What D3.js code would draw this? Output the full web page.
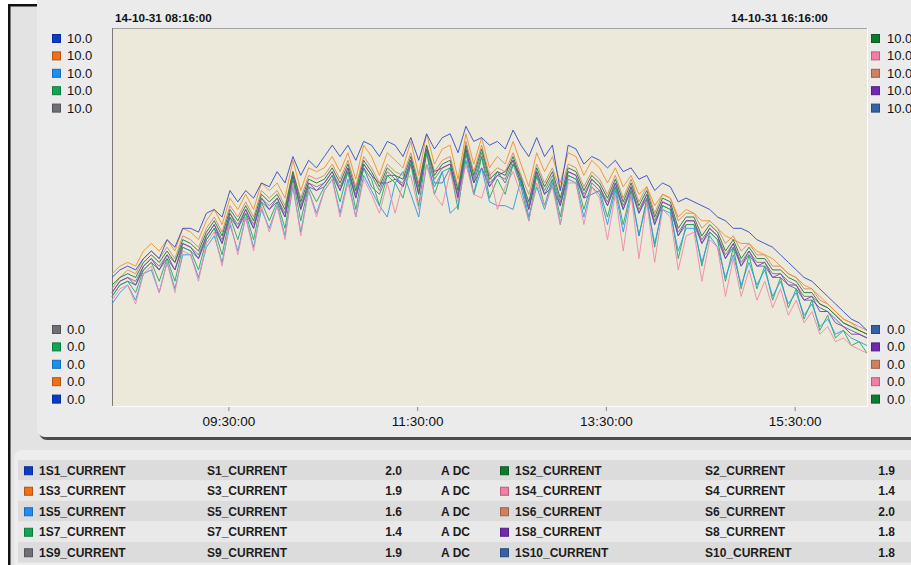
<!DOCTYPE html>
<html>
<head>
<meta charset="utf-8">
<script src="https://cdn.jsdelivr.net/npm/d3@7"></script>
<style>
  body { margin: 0; background: #fff; }
  svg { display: block; }
  text { font-family: "Liberation Sans", Arial, sans-serif; }
</style>
</head>
<body>
<svg id="chart" width="911" height="565"></svg>
<script>
// series names / units / colours
var names = ["1S1_CURRENT", "1S2_CURRENT", "1S3_CURRENT", "1S4_CURRENT", "1S5_CURRENT",
             "1S6_CURRENT", "1S7_CURRENT", "1S8_CURRENT", "1S9_CURRENT", "1S10_CURRENT"];
var shortNames = ["S1_CURRENT", "S2_CURRENT", "S3_CURRENT", "S4_CURRENT", "S5_CURRENT",
                  "S6_CURRENT", "S7_CURRENT", "S8_CURRENT", "S9_CURRENT", "S10_CURRENT"];
var lastValues = ["2.0", "1.9", "1.9", "1.4", "1.6", "2.0", "1.4", "1.8", "1.9", "1.8"];
var units = "ADC";
var colors = ["#0b3cc8", "#0e7a2e", "#f07018", "#f07ea6", "#1c8ff0",
              "#d0805e", "#13a553", "#7028b0", "#6f6f77", "#3562a2"];
var lineColors = ["#2f4cc4", "#1a7a36", "#f0902c", "#ee88a8", "#2a98ec",
                  "#d08a68", "#22a85e", "#7a3cb4", "#7a7a80", "#4a70a8"];

// time axis
var startTime = new Date(2014, 9, 31, 8, 16, 0);
var endTime = new Date(2014, 9, 31, 16, 16, 0);
var stepMinutes = 5;
var tickTimes = [new Date(2014, 9, 31, 9, 30), new Date(2014, 9, 31, 11, 30),
                 new Date(2014, 9, 31, 13, 30), new Date(2014, 9, 31, 15, 30)];
var yMin = 0, yMax = 10;

// sampled values, one every 5 minutes
var s1 = [3.4,3.6,3.7,3.6,3.9,4.1,3.9,4.4,4.2,4.7, 4.7,4.6,5.1,5.2,5.0,5.7,5.4,5.7,5.5,5.9,
          5.8,6.2,5.9,6.6,6.1,6.5,6.3,6.6,6.9,6.6, 6.9,6.5,7.0,6.9,6.6,7.0,6.9,6.6,7.1,6.5,
          7.2,6.8,7.1,7.2,6.7,7.4,7.0,7.1,6.9,7.0, 6.8,7.3,6.9,6.6,7.1,6.6,6.9,5.7,6.9,6.8,
          6.4,6.6,6.5,6.3,6.5,6.2,6.3,6.0,6.1,5.7, 5.9,5.8,5.4,5.5,5.4,5.3,5.2,5.0,4.9,4.7,
          4.7,4.6,4.4,4.3,4.2,4.0,3.8,3.6,3.4,3.3, 3.1,2.9,2.7,2.5,2.3,2.2,2.0];
var s2 = [3.2,3.4,3.5,3.4,3.8,4.0,3.8,4.1,3.8,4.4, 4.3,4.1,4.6,4.9,4.5,5.2,4.9,5.3,4.9,5.6,
          5.4,5.6,5.2,6.2,5.4,6.0,5.9,6.0,6.3,5.9, 6.4,5.7,6.5,6.2,5.8,6.3,6.1,6.0,6.6,5.8,
          6.9,6.1,6.4,6.5,5.7,6.9,6.1,6.8,6.0,6.2, 6.1,6.6,6.0,5.4,6.3,5.8,6.2,5.5,6.3,6.2,
          5.7,6.1,5.9,5.5,6.0,5.4,5.9,5.3,5.7,5.0, 5.5,5.4,4.7,5.0,5.0,4.5,4.8,4.6,4.1,4.4,
          3.9,4.2,3.9,3.9,3.6,3.6,3.4,3.3,3.0,3.0, 2.7,2.6,2.4,2.2,2.1,2.0,1.9];
var s3 = [3.5,3.7,3.8,3.7,4.1,4.3,4.1,4.4,4.1,4.7, 4.6,4.4,4.9,5.2,4.8,5.5,5.2,5.6,5.2,5.9,
          5.7,5.9,5.5,6.5,5.7,6.3,6.2,6.3,6.6,6.2, 6.7,6.0,6.9,6.6,6.1,6.7,6.5,6.3,7.0,6.1,
          7.2,6.4,6.8,6.9,6.0,7.2,6.4,7.1,6.3,6.6, 6.4,7.0,6.4,5.8,6.7,6.2,6.6,5.9,6.7,6.6,
          6.1,6.5,6.3,5.9,6.3,5.8,6.1,5.6,5.8,5.3, 5.6,5.5,5.0,5.2,5.1,4.9,4.9,4.7,4.5,4.4,
          4.3,4.3,4.1,4.0,3.9,3.7,3.5,3.4,3.2,3.1, 2.9,2.7,2.5,2.3,2.2,2.0,1.9];
var s4 = [2.8,3.1,3.2,2.7,3.5,3.7,3.0,3.8,3.0,4.1, 4.0,3.3,4.3,4.6,3.7,4.9,4.0,5.0,4.1,5.3,
          4.6,5.3,4.4,5.9,4.5,5.7,5.0,5.7,6.0,5.0, 5.9,5.0,6.0,5.6,5.1,5.9,5.1,5.9,6.1,5.2,
          6.4,5.6,5.3,6.2,5.4,6.4,5.6,5.5,6.2,5.2, 5.8,6.2,5.6,4.9,5.9,5.3,5.8,4.8,5.9,5.9,
          4.8,5.8,5.5,4.4,5.6,4.1,5.6,3.9,5.4,3.8, 5.2,5.0,3.6,4.5,4.6,3.3,4.4,4.2,2.9,3.9,
          2.9,3.6,2.8,3.3,2.6,3.1,2.4,2.8,2.2,2.5, 1.9,2.1,1.7,1.8,1.6,1.5,1.4];
var s5 = [2.7,3.0,3.2,2.8,3.5,3.6,3.0,3.8,3.1,4.0, 4.0,3.4,4.2,4.5,3.8,4.8,4.1,5.0,4.2,5.2,
          4.7,5.3,4.5,5.8,4.6,5.7,5.1,5.7,6.0,5.1, 6.0,5.0,6.1,5.7,5.3,5.0,5.9,6.2,5.6,5.0,
          6.4,5.8,6.2,5.1,5.3,6.5,5.6,6.3,5.4,5.3, 5.3,5.2,6.0,5.0,5.8,5.2,5.9,4.8,6.0,5.9,
          5.0,5.8,5.6,4.8,5.7,4.6,5.6,4.5,5.4,4.3, 5.2,5.1,4.1,4.7,4.7,3.8,4.5,4.2,3.4,4.0,
          3.2,3.8,3.2,3.6,2.9,3.3,2.7,3.0,2.4,2.7, 2.1,2.3,1.9,2.0,1.8,1.7,1.6];
var s6 = [3.1,3.4,3.6,3.5,3.9,4.1,3.9,4.2,3.9,4.5, 4.4,4.2,4.7,5.0,4.6,5.3,5.0,5.4,5.0,5.7,
          5.5,5.7,5.3,6.2,5.5,6.1,6.0,6.1,6.4,6.0, 6.5,5.8,6.6,6.3,5.9,6.4,6.2,6.1,6.7,5.9,
          6.9,6.2,6.5,6.6,5.8,7.0,6.2,6.9,6.1,6.3, 6.2,6.7,6.1,5.6,6.4,5.9,6.3,5.7,6.4,6.3,
          5.8,6.2,6.0,5.6,6.1,5.5,6.0,5.4,5.8,5.1, 5.6,5.5,4.9,5.1,5.1,4.7,4.9,4.7,4.3,4.5,
          4.1,4.3,4.0,4.0,3.7,3.7,3.5,3.4,3.1,3.1, 2.8,2.7,2.5,2.3,2.2,2.1,2.0];
var s7 = [2.9,3.2,3.3,3.0,3.6,3.8,3.3,3.9,3.3,4.2, 4.1,3.6,4.4,4.7,4.0,5.0,4.4,5.1,4.4,5.4,
          4.9,5.4,4.7,6.0,4.9,5.8,5.4,5.8,6.1,5.4, 6.2,5.2,6.3,6.0,5.3,6.1,5.9,5.5,6.4,5.3,
          6.7,5.6,6.2,6.3,5.2,6.7,5.6,6.6,5.5,6.0, 5.6,6.4,5.8,4.9,6.1,5.3,6.0,5.0,6.1,6.0,
          5.2,5.9,5.7,5.0,5.8,4.8,5.7,4.5,5.5,4.2, 5.3,5.2,3.9,4.8,4.8,3.7,4.6,4.4,3.3,4.2,
          3.1,4.0,3.1,3.7,2.8,3.4,2.6,3.1,2.3,2.8, 2.0,2.4,1.8,2.0,1.6,1.7,1.4];
var s8 = [3.0,3.3,3.4,3.2,3.7,3.9,3.6,4.0,3.6,4.3, 4.2,3.9,4.5,4.8,4.3,5.1,4.7,5.2,4.7,5.5,
          5.2,5.5,5.0,6.1,5.2,5.9,5.7,5.9,6.2,5.7, 6.3,5.5,6.4,6.1,5.9,5.9,6.0,5.8,6.5,5.6,
          6.8,6.2,6.3,6.4,5.5,6.8,5.9,6.3,5.8,6.1, 6.2,6.5,5.9,5.2,6.2,5.6,5.8,5.3,6.2,6.1,
          5.5,6.0,5.8,5.3,5.9,5.2,5.8,5.1,5.6,4.8, 5.4,5.3,4.5,4.9,4.9,4.3,4.7,4.5,3.9,4.3,
          3.7,4.1,3.7,3.8,3.4,3.5,3.2,3.2,2.8,2.9, 2.5,2.5,2.2,2.1,1.9,1.9,1.8];
var s9 = [3.0,3.3,3.4,3.3,3.7,3.9,3.7,4.0,3.8,4.3, 4.2,4.0,4.5,4.8,4.4,5.1,4.8,5.2,4.8,5.5,
          5.3,5.5,5.1,6.1,5.3,5.9,5.8,5.9,6.2,5.8, 6.3,5.6,6.4,6.1,5.7,6.2,6.0,5.9,6.5,5.7,
          6.8,6.0,6.3,6.4,5.6,6.8,6.0,6.7,5.9,6.1, 6.0,6.5,5.9,5.3,6.2,5.7,6.1,5.4,6.2,6.1,
          5.6,6.0,5.8,5.4,5.9,5.3,5.8,5.2,5.6,4.9, 5.4,5.3,4.6,4.9,4.9,4.4,4.7,4.5,4.0,4.3,
          3.8,4.1,3.8,3.8,3.5,3.5,3.3,3.2,2.9,2.9, 2.7,2.6,2.4,2.2,2.1,2.0,1.9];
var s10 = [2.9,3.2,3.3,3.2,3.6,3.8,3.6,3.9,3.6,4.2, 4.1,3.9,4.4,4.7,4.3,5.0,4.7,5.1,4.7,5.4,
           5.2,5.4,5.0,6.0,5.2,5.8,5.7,5.8,6.1,5.7, 6.2,5.5,6.3,5.8,5.6,6.1,6.1,5.8,6.4,5.6,
           6.7,5.9,5.9,6.3,5.5,6.7,5.9,6.6,5.8,6.2, 5.9,6.4,6.1,5.2,6.1,5.6,6.0,5.3,6.1,6.0,
           5.5,5.6,5.7,5.3,5.8,5.2,5.7,5.1,5.5,4.8, 5.3,5.2,4.5,4.8,4.8,4.3,4.6,4.4,3.9,4.2,
           3.7,4.0,3.7,3.7,3.4,3.4,3.2,3.1,2.8,2.8, 2.6,2.5,2.3,2.1,2.0,1.9,1.8];
var series = [s1, s2, s3, s4, s5, s6, s7, s8, s9, s10];

// legend order beside the plot (left = odd series, right = even series)
var leftIdx = [0, 2, 4, 6, 8];
var rightIdx = [1, 3, 5, 7, 9];

var svg = d3.select("#chart");
var plot = { left: 112, top: 28, right: 867, bottom: 406 };

// background and frame
svg.append("rect").attr("x", 0).attr("y", 0).attr("width", 911).attr("height", 565).attr("fill", "#fff");
svg.append("rect").attr("x", 10).attr("y", 6).attr("width", 901).attr("height", 559).attr("fill", "#e3e3e3");
svg.append("rect").attr("x", 8).attr("y", 4).attr("width", 903).attr("height", 2.5).attr("fill", "#111");
svg.append("rect").attr("x", 8).attr("y", 4).attr("width", 2.5).attr("height", 561).attr("fill", "#111");

// chart panel with shadow
svg.append("rect").attr("x", 39).attr("y", -20).attr("width", 900).attr("height", 460)
  .attr("rx", 8).attr("fill", "#4c4c4c");
svg.append("rect").attr("x", 37).attr("y", -20).attr("width", 900).attr("height", 457)
  .attr("rx", 8).attr("fill", "#ebebeb");

// table panel
svg.append("rect").attr("x", 14).attr("y", 450).attr("width", 920).attr("height", 140)
  .attr("rx", 8).attr("fill", "#ededed");

// plot area
svg.append("rect").attr("x", plot.left).attr("y", plot.top)
  .attr("width", plot.right - plot.left).attr("height", plot.bottom - plot.top)
  .attr("fill", "#ece8da");
svg.append("line").attr("x1", plot.left).attr("x2", plot.right)
  .attr("y1", plot.top + 0.5).attr("y2", plot.top + 0.5).attr("stroke", "#a5a5a5");
svg.append("line").attr("x1", plot.left + 0.5).attr("x2", plot.left + 0.5)
  .attr("y1", plot.top).attr("y2", plot.bottom).attr("stroke", "#7a7a7a");
svg.append("line").attr("x1", plot.left).attr("x2", plot.right)
  .attr("y1", plot.bottom + 0.5).attr("y2", plot.bottom + 0.5).attr("stroke", "#fff");
svg.append("line").attr("x1", plot.right + 0.5).attr("x2", plot.right + 0.5)
  .attr("y1", plot.top).attr("y2", plot.bottom).attr("stroke", "#fff");

var x = d3.scaleTime().domain([startTime, endTime]).range([plot.left, plot.right]);
var y = d3.scaleLinear().domain([yMin, yMax]).range([plot.bottom, plot.top]);

function timeAt(i) {
  return new Date(startTime.getTime() + i * stepMinutes * 60000);
}

// x axis
var xAxis = d3.axisBottom(x)
  .tickValues(tickTimes)
  .tickFormat(d3.timeFormat("%H:%M:%S"))
  .tickSize(4)
  .tickPadding(5);
var gx = svg.append("g").attr("transform", "translate(0," + (plot.bottom + 1) + ")").call(xAxis);
gx.select(".domain").remove();
gx.selectAll(".tick line").attr("stroke", "#8a8a8a");
gx.selectAll(".tick text").attr("fill", "#111")
  .style("font-family", "'Liberation Sans', Arial, sans-serif").style("font-size", "13.5px");

// start / end time labels
var fmtTop = d3.timeFormat("%y-%m-%d %H:%M:%S");
svg.append("text").attr("x", 115).attr("y", 22).text(fmtTop(startTime))
  .style("font-weight", "bold").style("font-size", "11.7px").attr("fill", "#111");
svg.append("text").attr("x", 731).attr("y", 22).text(fmtTop(endTime))
  .style("font-weight", "bold").style("font-size", "11.7px").attr("fill", "#111");

// lines
var line = d3.line()
  .x(function (d, i) { return x(timeAt(i)); })
  .y(function (d) { return y(d); });

var order = [9, 8, 7, 6, 5, 4, 3, 2, 1, 0];
svg.append("g").selectAll("path")
  .data(order)
  .enter()
  .append("path")
  .attr("d", function (k) { return line(series[k]); })
  .attr("fill", "none")
  .attr("stroke", function (k) { return lineColors[k]; })
  .attr("stroke-width", 1)
  .attr("stroke-opacity", 0.9)
  .attr("stroke-linejoin", "miter");

// scale legends beside the plot
function swatch(g, sx, sy, c) {
  g.append("rect").attr("x", sx + 0.5).attr("y", sy - 3.5).attr("width", 8).attr("height", 8)
    .attr("fill", c).attr("stroke", d3.color(c).darker(0.8)).attr("stroke-width", 1);
}

var rowStep = 17.4;
function scaleLegend(idx, sx, tx, topY, label) {
  var g = svg.append("g");
  idx.forEach(function (k, j) {
    var yy = topY + j * rowStep;
    swatch(g, sx, yy, colors[k]);
    g.append("text").attr("x", tx).attr("y", yy + 5).text(label)
      .style("font-size", "13px").attr("fill", "#111");
  });
}
scaleLegend(leftIdx, 52, 67, 38, yMax.toFixed(1));
scaleLegend(leftIdx.slice().reverse(), 52, 67, 329, yMin.toFixed(1));
scaleLegend(rightIdx, 871, 887, 38, yMax.toFixed(1));
scaleLegend(rightIdx.slice().reverse(), 871, 887, 329, yMin.toFixed(1));

// table of series
var rowH = 20.5;
var tableTop = 460;
var table = svg.append("g");
for (var r = 0; r < 5; r++) {
  table.append("rect").attr("x", 18).attr("y", tableTop + r * rowH)
    .attr("width", 900).attr("height", rowH)
    .attr("fill", r % 2 == 0 ? "#dcdcdc" : "#e9e9e9");
}
var cols = [
  { sw: 24, name: 39, short: 207, val: 402, unit: 441, idx: leftIdx },
  { sw: 500, name: 515, short: 705, val: 895, unit: null, idx: rightIdx }
];
cols.forEach(function (c) {
  c.idx.forEach(function (k, r) {
    var cy = tableTop + r * rowH + rowH / 2;
    swatch(table, c.sw, cy, colors[k]);
    var t = function (tx, s, anchor) {
      return table.append("text").attr("x", tx).attr("y", cy + 4.5).text(s)
        .attr("text-anchor", anchor || "start")
        .style("font-weight", "bold").style("font-size", "12px").attr("fill", "#1c1c1c");
    };
    t(c.name, names[k]);
    t(c.short, shortNames[k]);
    t(c.val, lastValues[k], "end");
    if (c.unit != null) {
      var u = table.append("text").attr("x", c.unit).attr("y", cy + 4.5)
        .style("font-weight", "bold").style("font-size", "12px").attr("fill", "#1c1c1c");
      u.append("tspan").text(units.slice(0, 1));
      u.append("tspan").attr("dx", 3).text(units.slice(1));
    }
  });
});
</script>
</body>
</html>
